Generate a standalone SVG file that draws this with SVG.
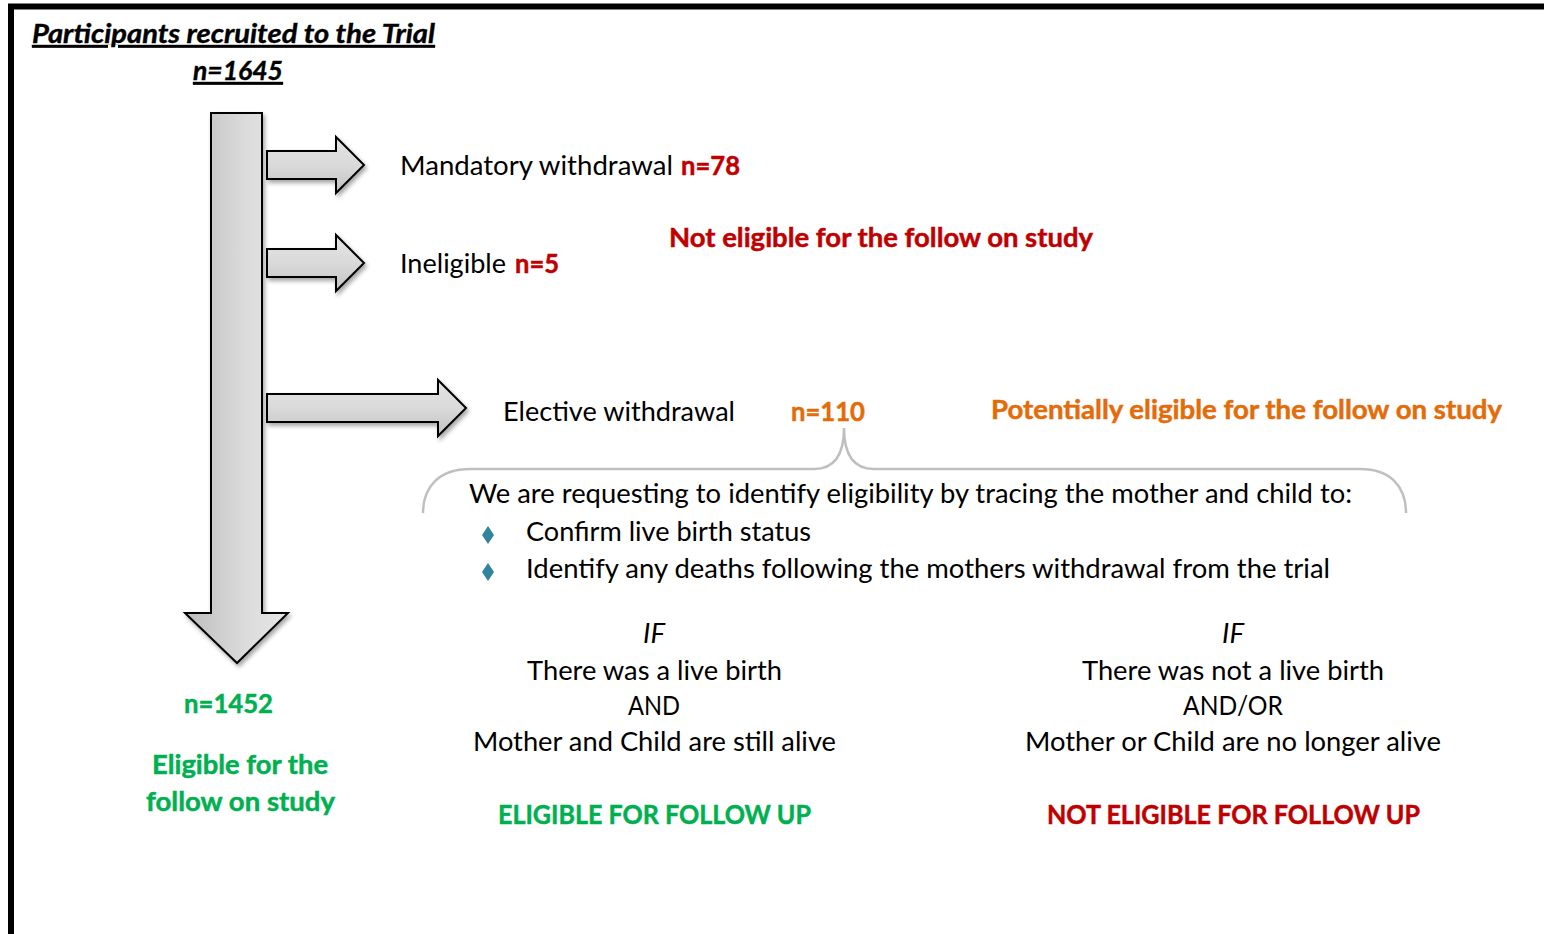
<svg xmlns="http://www.w3.org/2000/svg" width="1544" height="934" viewBox="0 0 1544 934">
  <defs>
    <linearGradient id="gV" x1="0" y1="0" x2="1" y2="0">
      <stop offset="0" stop-color="#bdbdbd"/>
      <stop offset="0.6" stop-color="#dcdcdc"/>
      <stop offset="1" stop-color="#e6e6e6"/>
    </linearGradient>
    <linearGradient id="gH" x1="0" y1="0" x2="0" y2="1">
      <stop offset="0" stop-color="#e4e4e4"/>
      <stop offset="0.5" stop-color="#dadada"/>
      <stop offset="1" stop-color="#c2c2c2"/>
    </linearGradient>
    <filter id="sh" x="-20%" y="-20%" width="140%" height="140%">
      <feDropShadow dx="2" dy="3" stdDeviation="2" flood-color="#000" flood-opacity="0.35"/>
    </filter>
  </defs>
  <style>
    text { font-family: Lato, "Liberation Sans", sans-serif; font-size: 27.5px; fill: #000; }
    .b { font-weight: bold; stroke-width: 0.5; }
    .bi { font-weight: bold; font-style: italic; text-decoration: underline; stroke: #000; stroke-width: 0.4; }
    .i { font-style: italic; }
    .red { fill: #c00000; stroke: #c00000; }
    .org { fill: #e36c09; stroke: #e36c09; }
    .grn { fill: #00b050; stroke: #00b050; }
    .arrow { stroke: #000; stroke-width: 2; stroke-linejoin: miter; filter: url(#sh); }
    .brace { fill: none; stroke: #bfbfbf; stroke-width: 2.5; }
    .bullet { fill: #31849b; }
  </style>
  <rect x="0" y="0" width="1544" height="934" fill="#fff"/>
  <rect x="11" y="6.5" width="1580" height="980" fill="none" stroke="#000" stroke-width="6"/>

  <g id="connectors">
    <polygon class="arrow" fill="url(#gV)" points="211,113 262,113 262,613 288,613 237,663 185,613 211,613"/>
    <polygon class="arrow" fill="url(#gH)" points="267,151 336,151 336,137 364,165 336,193 336,179 267,179"/>
    <polygon class="arrow" fill="url(#gH)" points="267,249 336,249 336,235 364,263 336,291 336,277 267,277"/>
    <polygon class="arrow" fill="url(#gH)" points="267,394 438,394 438,380 466,408 438,436 438,422 267,422"/>
    <path class="brace" d="M423,513 C423,486 440,469 470,469 L814,469 C834,469 844,455 844,428 C844,455 854,469 874,469 L1360,469 C1390,469 1406,486 1406,513"/>
  </g>

  <g id="recruited">
    <text class="bi" x="32" y="43" font-size="25" textLength="403" lengthAdjust="spacingAndGlyphs">Participants recruited to the Trial</text>
    <text class="bi" x="193" y="80" font-size="25" textLength="90" lengthAdjust="spacingAndGlyphs">n=1645</text>
  </g>

  <g id="mandatory">
    <text x="400" y="175" textLength="273" lengthAdjust="spacingAndGlyphs">Mandatory withdrawal</text>
    <text class="b red" x="681" y="175" textLength="59" lengthAdjust="spacingAndGlyphs">n=78</text>
  </g>

  <g id="ineligible">
    <text x="400" y="273" textLength="106" lengthAdjust="spacingAndGlyphs">Ineligible</text>
    <text class="b red" x="515" y="273" textLength="44" lengthAdjust="spacingAndGlyphs">n=5</text>
  </g>

  <g id="not-eligible-label">
    <text class="b red" x="669" y="247" textLength="424" lengthAdjust="spacingAndGlyphs">Not eligible for the follow on study</text>
  </g>

  <g id="elective">
    <text x="503" y="421" textLength="232" lengthAdjust="spacingAndGlyphs">Elective withdrawal</text>
    <text class="b org" x="791" y="421" textLength="74" lengthAdjust="spacingAndGlyphs">n=110</text>
  </g>

  <g id="potentially-eligible-label">
    <text class="b org" x="991" y="419" textLength="511" lengthAdjust="spacingAndGlyphs">Potentially eligible for the follow on study</text>
  </g>

  <g id="tracing">
    <text x="469" y="503" textLength="883" lengthAdjust="spacingAndGlyphs">We are requesting to identify eligibility by tracing the mother and child to:</text>
    <polygon class="bullet" points="488,526 494,535 488,544 482,535"/>
    <text x="526" y="541" textLength="285" lengthAdjust="spacingAndGlyphs">Confirm live birth status</text>
    <polygon class="bullet" points="488,563 494,572 488,581 482,572"/>
    <text x="526" y="578" textLength="804" lengthAdjust="spacingAndGlyphs">Identify any deaths following the mothers withdrawal from the trial</text>
  </g>

  <g id="eligible-branch">
    <text class="i" x="654" y="643" text-anchor="middle">IF</text>
    <text x="527" y="680" textLength="255" lengthAdjust="spacingAndGlyphs">There was a live birth</text>
    <text x="628" y="715" textLength="52" lengthAdjust="spacingAndGlyphs">AND</text>
    <text x="473" y="751" textLength="363" lengthAdjust="spacingAndGlyphs">Mother and Child are still alive</text>
    <text class="b grn" x="498" y="824" textLength="313" lengthAdjust="spacingAndGlyphs">ELIGIBLE FOR FOLLOW UP</text>
  </g>

  <g id="not-eligible-branch">
    <text class="i" x="1233" y="643" text-anchor="middle">IF</text>
    <text x="1082" y="680" textLength="302" lengthAdjust="spacingAndGlyphs">There was not a live birth</text>
    <text x="1183" y="715" textLength="100" lengthAdjust="spacingAndGlyphs">AND/OR</text>
    <text x="1025" y="751" textLength="416" lengthAdjust="spacingAndGlyphs">Mother or Child are no longer alive</text>
    <text class="b red" x="1047" y="824" textLength="373" lengthAdjust="spacingAndGlyphs">NOT ELIGIBLE FOR FOLLOW UP</text>
  </g>

  <g id="eligible-total">
    <text class="b grn" x="184" y="713" textLength="89" lengthAdjust="spacingAndGlyphs">n=1452</text>
    <text class="b grn" x="152" y="774" textLength="176" lengthAdjust="spacingAndGlyphs">Eligible for the</text>
    <text class="b grn" x="146" y="811" textLength="189" lengthAdjust="spacingAndGlyphs">follow on study</text>
  </g>
</svg>
